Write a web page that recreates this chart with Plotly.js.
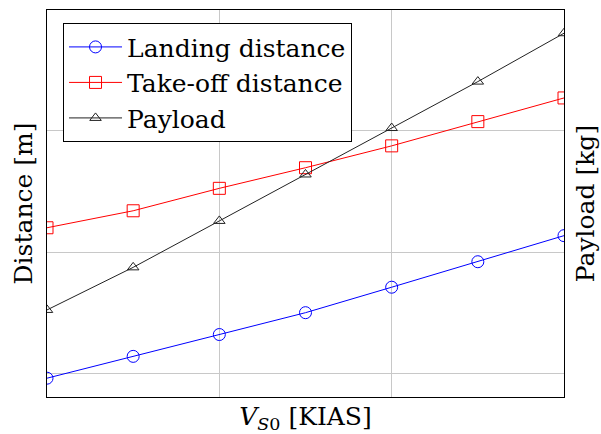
<!DOCTYPE html>
<html>
<head>
<meta charset="utf-8">
<script src="https://cdn.plot.ly/plotly-3.0.1.min.js"></script>
<style>html,body{margin:0;padding:0;background:#fff;}#chart{width:601px;height:434px;}</style>
</head>
<body>
<div id="chart"></div>
<script>
// Airspeed index (no tick labels in the original)
const vs0 = [0, 1, 2, 3, 4, 5, 6];
// Distances [m]
const landingDistance = [192, 228, 264, 300, 342, 384, 427];
const takeoffDistance = [440, 468, 505, 539, 575, 615, 654];
// Payload [kg] (estimated, right axis)
const payload = [195, 217, 241, 265, 289, 313, 338];
const seriesNames = ["Landing distance", "Take-off distance", "Payload"];

const serif = "DejaVu Serif, Liberation Serif, serif";

const traces = [
  {x: vs0, y: landingDistance, name: seriesNames[0], type: "scatter", mode: "lines+markers",
   line: {color: "#0000ff", width: 1},
   marker: {symbol: "circle-open", size: 12, color: "#0000ff", line: {width: 1}}},
  {x: vs0, y: takeoffDistance, name: seriesNames[1], type: "scatter", mode: "lines+markers",
   line: {color: "#ff0000", width: 1},
   marker: {symbol: "square-open", size: 12, color: "#ff0000", line: {width: 1}}},
  {x: vs0, y: payload, name: seriesNames[2], type: "scatter", mode: "lines+markers", yaxis: "y2",
   line: {color: "#222222", width: 1},
   marker: {symbol: "triangle-up-open", size: 10, color: "#222222", line: {width: 1}}}
];

const layout = {
  width: 601, height: 434,
  margin: {l: 47, r: 37, t: 10, b: 37},
  paper_bgcolor: "#fff", plot_bgcolor: "#fff",
  font: {family: serif, size: 25, color: "#000"},
  showlegend: true,
  legend: {x: 0.031, y: 0.966, xanchor: "left", yanchor: "top",
           bgcolor: "#fff", bordercolor: "#000", borderwidth: 1,
           font: {family: serif, size: 25, color: "#000"},
           tracegroupgap: 0, itemwidth: 53},
  xaxis: {range: [0, 6], tickvals: [0, 2, 4, 6], showticklabels: false, ticks: "",
          showgrid: true, gridcolor: "#c8c8c8", gridwidth: 1, zeroline: false,
          showline: true, linecolor: "#000", linewidth: 1, mirror: true,
          title: {text: "<i>V</i><sub><i>S</i>0</sub> [KIAS]", font: {family: serif, size: 25}, standoff: 11}},
  yaxis: {range: [161, 799], tickvals: [200, 400, 600], showticklabels: false, ticks: "",
          showgrid: true, gridcolor: "#c8c8c8", gridwidth: 1, zeroline: false,
          showline: true, linecolor: "#000", linewidth: 1, mirror: true,
          title: {text: "Distance [m]", font: {family: serif, size: 25}, standoff: 6}},
  yaxis2: {overlaying: "y", side: "right", range: [150, 350], showticklabels: false, ticks: "",
           showgrid: false, zeroline: false, showline: false,
           title: {text: "Payload [kg]", font: {family: serif, size: 25}, standoff: 12}}
};

Plotly.newPlot("chart", traces, layout, {displayModeBar: false, staticPlot: true});
</script>
</body>
</html>
